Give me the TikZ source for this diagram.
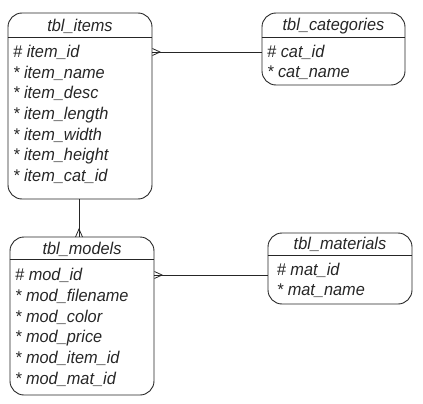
\documentclass[tikz,border=0pt]{standalone}
\usepackage{fontspec}
\setmainfont{Liberation Sans}[FakeStretch=0.96]
\usetikzlibrary{positioning}
\definecolor{ink}{HTML}{262626}

\begin{document}
\begin{tikzpicture}[x=1pt,y=-1pt,
  tblbox/.style={draw=ink,line width=0.9pt,rounded corners=14pt,inner sep=0pt},
  field/.style={font=\fontsize{17}{20}\selectfont\itshape,text=ink,anchor=base west,inner sep=0pt},
  title/.style={font=\fontsize{17}{20}\selectfont\itshape,text=ink,anchor=base,inner sep=0pt},
  link/.style={draw=ink,line width=0.8pt}]
  \useasboundingbox (0,0) rectangle (423,404);
  % tbl_items
  \node[tblbox,minimum width=144pt,minimum height=186pt] (items) at (80,106) {};
  \draw[link] (items.west |- 0,37) -- (items.east |- 0,37);
  \node[title] (items-t) at (items.north |- 0,31.7) {tbl\_items};
  \foreach \f [count=\i from 0] in {\# item\_id,* item\_name,* item\_desc,* item\_length,* item\_width,* item\_height,* item\_cat\_id}
    \node[field] (items-\i) at (13,57.3+\i*20.7) {\f};
  % tbl_categories
  \node[tblbox,minimum width=143pt,minimum height=72pt] (categories) at (333.5,49) {};
  \draw[link] (categories.west |- 0,37) -- (categories.east |- 0,37);
  \node[title] (categories-t) at (categories.north |- 0,31) {tbl\_categories};
  \foreach \f [count=\i from 0] in {\# cat\_id,* cat\_name}
    \node[field] (categories-\i) at (267,57.3+\i*20) {\f};
  % tbl_models
  \node[tblbox,minimum width=144pt,minimum height=158pt] (models) at (82,316) {};
  \draw[link] (models.west |- 0,259) -- (models.east |- 0,259);
  \node[title] (models-t) at (models.north |- 0,254.3) {tbl\_models};
  \foreach \f [count=\i from 0] in {\# mod\_id,* mod\_filename,* mod\_color,* mod\_price,* mod\_item\_id,* mod\_mat\_id}
    \node[field] (models-\i) at (15,280.7+\i*20.7) {\f};
  % tbl_materials
  \node[tblbox,minimum width=144pt,minimum height=71pt] (materials) at (340,268.5) {};
  \draw[link] (materials.west |- 0,255) -- (materials.east |- 0,255);
  \node[title] (materials-t) at (materials.north |- 0,249.3) {tbl\_materials};
  \foreach \f [count=\i from 0] in {\# mat\_id,* mat\_name}
    \node[field] (materials-\i) at (276.7,275+\i*20.7) {\f};
  % relations with crow's feet
  \draw[link] (categories.west |- 0,52) -- (items.east |- 0,52);
  \draw[link] (items.east |- 0,48.5) -- (160,52) -- (items.east |- 0,55.5);
  \draw[link] (materials.west |- 0,275) -- (models.east |- 0,275);
  \draw[link] (models.east |- 0,271.5) -- (162,275) -- (models.east |- 0,278.5);
  \draw[link] (items.south -| 79,0) -- (models.north -| 79,0);
  \draw[link] (75.5,237) -- (79,229) -- (82.5,237);
\end{tikzpicture}
\end{document}
